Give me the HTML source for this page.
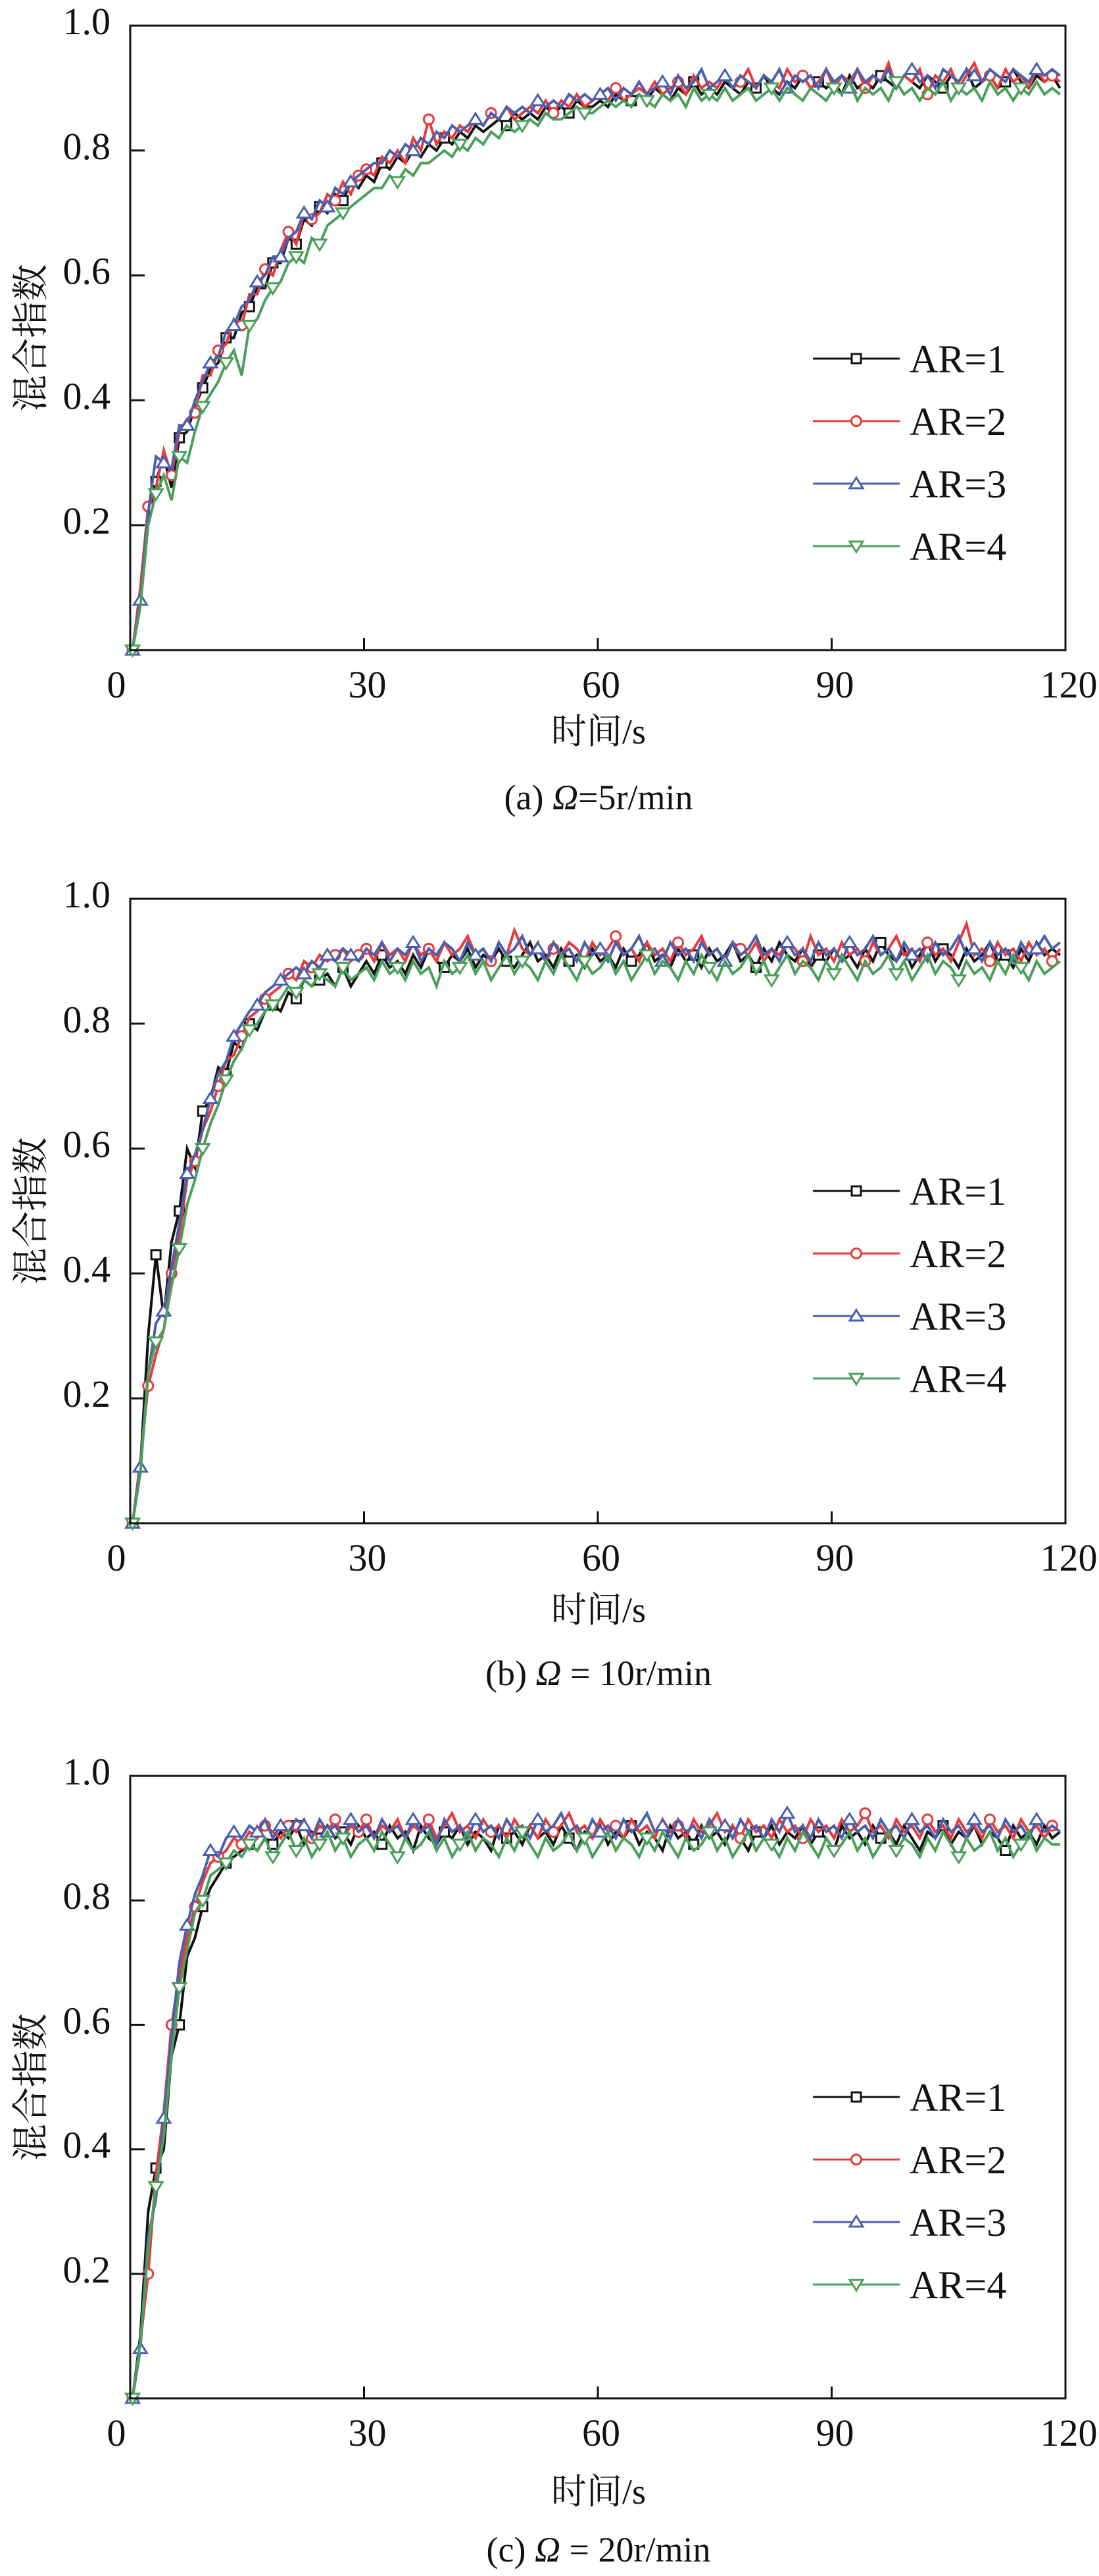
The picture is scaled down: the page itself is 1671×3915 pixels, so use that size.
<!DOCTYPE html>
<html><head><meta charset="utf-8">
<style>
html,body{margin:0;padding:0;background:#fff;}
svg{display:block;}
text{font-family:"Liberation Serif","Noto Serif CJK SC","Noto Sans CJK SC",serif;fill:#111;}
</style></head>
<body>
<svg id="fig" width="1671" height="3915" viewBox="0 0 1671 3915" xmlns="http://www.w3.org/2000/svg"></svg>
<script>
const seriesNames = ["AR=1","AR=2","AR=3","AR=4"];
const yTicks = [0.2,0.4,0.6,0.8,1.0];
const yTickLabels = ["0.2","0.4","0.6","0.8","1.0"];
const xTicks = [0,30,60,90,120];
const xTickLabels = ["0","30","60","90","120"];

const a1=[0,0.09,0.21,0.27,0.31,0.26,0.34,0.35,0.39,0.42,0.45,0.46,0.50,0.50,0.54,0.55,0.58,0.58,0.62,0.62,0.66,0.65,0.69,0.68,0.71,0.70,0.73,0.72,0.75,0.74,
0.76,0.75,0.78,0.77,0.79,0.78,0.80,0.79,0.81,0.80,0.82,0.81,0.83,0.82,0.84,0.83,0.84,0.85,0.84,0.86,0.85,0.86,0.85,0.87,0.86,0.87,0.86,0.88,0.87,0.87,
0.88,0.87,0.89,0.88,0.88,0.89,0.88,0.90,0.89,0.88,0.90,0.89,0.91,0.89,0.90,0.89,0.91,0.90,0.89,0.91,0.90,0.92,0.90,0.89,0.91,0.90,0.92,0.90,0.91,0.90,
0.91,0.89,0.92,0.90,0.91,0.90,0.92,0.91,0.90,0.92,0.91,0.90,0.92,0.91,0.90,0.92,0.91,0.93,0.90,0.91,0.92,0.90,0.91,0.93,0.91,0.90,0.92,0.91,0.92,0.90];
const a2=[0,0.10,0.23,0.26,0.32,0.28,0.35,0.37,0.38,0.44,0.44,0.48,0.49,0.53,0.52,0.57,0.57,0.61,0.60,0.64,0.67,0.65,0.70,0.69,0.70,0.73,0.72,0.75,0.73,0.76,
0.77,0.76,0.79,0.78,0.80,0.78,0.82,0.80,0.85,0.81,0.83,0.82,0.84,0.83,0.85,0.84,0.86,0.85,0.87,0.85,0.86,0.87,0.86,0.88,0.86,0.88,0.87,0.89,0.87,0.88,
0.89,0.88,0.90,0.88,0.89,0.90,0.89,0.91,0.89,0.90,0.91,0.89,0.92,0.90,0.91,0.90,0.92,0.90,0.91,0.93,0.90,0.92,0.91,0.90,0.93,0.91,0.92,0.90,0.91,0.93,
0.90,0.92,0.91,0.93,0.90,0.92,0.91,0.94,0.90,0.92,0.91,0.93,0.89,0.92,0.91,0.93,0.90,0.92,0.94,0.91,0.92,0.90,0.93,0.91,0.92,0.90,0.93,0.91,0.92,0.91];
const a3=[0,0.08,0.22,0.31,0.30,0.29,0.36,0.36,0.40,0.43,0.46,0.47,0.51,0.52,0.55,0.56,0.59,0.60,0.63,0.63,0.66,0.67,0.70,0.69,0.72,0.71,0.74,0.73,0.75,0.76,
0.77,0.78,0.78,0.80,0.79,0.81,0.80,0.82,0.81,0.83,0.82,0.84,0.83,0.84,0.85,0.84,0.86,0.85,0.87,0.86,0.87,0.86,0.88,0.87,0.88,0.87,0.89,0.88,0.89,0.88,
0.89,0.90,0.88,0.90,0.89,0.91,0.89,0.90,0.91,0.89,0.92,0.90,0.91,0.93,0.90,0.91,0.92,0.90,0.92,0.91,0.90,0.92,0.91,0.93,0.90,0.92,0.91,0.92,0.90,0.93,
0.91,0.92,0.90,0.93,0.91,0.92,0.91,0.93,0.90,0.92,0.93,0.91,0.92,0.90,0.93,0.92,0.91,0.93,0.92,0.91,0.93,0.92,0.91,0.93,0.92,0.91,0.93,0.92,0.93,0.92];
const a4=[0,0.07,0.20,0.25,0.28,0.24,0.31,0.30,0.35,0.39,0.41,0.43,0.46,0.48,0.44,0.52,0.53,0.56,0.58,0.59,0.62,0.63,0.62,0.66,0.65,0.68,0.69,0.70,0.71,0.72,
0.73,0.74,0.74,0.76,0.75,0.77,0.76,0.78,0.78,0.79,0.80,0.79,0.81,0.80,0.82,0.81,0.83,0.82,0.84,0.83,0.84,0.85,0.84,0.86,0.85,0.85,0.86,0.87,0.86,0.86,
0.87,0.88,0.87,0.88,0.87,0.89,0.88,0.87,0.89,0.88,0.89,0.87,0.90,0.88,0.89,0.88,0.90,0.88,0.89,0.90,0.88,0.89,0.90,0.88,0.90,0.89,0.88,0.90,0.89,0.88,
0.90,0.89,0.91,0.88,0.90,0.89,0.90,0.88,0.91,0.89,0.90,0.88,0.90,0.89,0.91,0.88,0.90,0.89,0.90,0.88,0.91,0.89,0.90,0.88,0.90,0.89,0.91,0.89,0.90,0.89];

const b1=[0,0.09,0.30,0.43,0.33,0.45,0.50,0.60,0.57,0.66,0.68,0.73,0.72,0.77,0.76,0.80,0.79,0.82,0.83,0.82,0.85,0.84,0.87,0.86,0.87,0.88,0.86,0.89,0.86,0.88,
0.90,0.88,0.91,0.89,0.90,0.88,0.91,0.89,0.92,0.90,0.89,0.91,0.90,0.92,0.89,0.91,0.90,0.92,0.90,0.89,0.91,0.93,0.90,0.91,0.89,0.92,0.90,0.91,0.89,0.92,
0.90,0.91,0.89,0.92,0.90,0.91,0.93,0.90,0.91,0.89,0.92,0.90,0.91,0.89,0.92,0.90,0.91,0.93,0.90,0.91,0.89,0.92,0.90,0.93,0.91,0.90,0.92,0.89,0.91,0.90,
0.92,0.90,0.91,0.89,0.92,0.90,0.93,0.91,0.90,0.92,0.89,0.91,0.93,0.90,0.92,0.91,0.89,0.92,0.90,0.91,0.93,0.90,0.91,0.89,0.92,0.90,0.93,0.91,0.92,0.91];
const b2=[0,0.10,0.22,0.27,0.31,0.40,0.46,0.55,0.58,0.63,0.66,0.70,0.74,0.75,0.78,0.81,0.82,0.84,0.85,0.86,0.88,0.87,0.90,0.89,0.91,0.90,0.91,0.92,0.90,0.91,
0.92,0.90,0.93,0.91,0.92,0.90,0.93,0.91,0.92,0.90,0.93,0.91,0.92,0.94,0.91,0.92,0.90,0.93,0.91,0.95,0.92,0.91,0.93,0.90,0.92,0.91,0.93,0.92,0.90,0.93,
0.91,0.92,0.94,0.91,0.92,0.90,0.93,0.91,0.92,0.90,0.93,0.91,0.92,0.94,0.91,0.92,0.90,0.93,0.92,0.91,0.93,0.90,0.92,0.91,0.93,0.92,0.90,0.94,0.91,0.92,
0.90,0.93,0.91,0.92,0.90,0.93,0.91,0.92,0.94,0.91,0.92,0.90,0.93,0.91,0.92,0.90,0.93,0.96,0.91,0.92,0.90,0.93,0.91,0.92,0.90,0.93,0.91,0.92,0.90,0.92];
const b3=[0,0.09,0.24,0.32,0.34,0.41,0.48,0.56,0.59,0.63,0.68,0.72,0.74,0.78,0.80,0.82,0.83,0.85,0.86,0.87,0.88,0.89,0.88,0.90,0.89,0.91,0.90,0.92,0.91,0.90,
0.92,0.91,0.93,0.90,0.92,0.91,0.93,0.90,0.92,0.91,0.93,0.92,0.90,0.93,0.91,0.92,0.90,0.93,0.91,0.92,0.94,0.91,0.92,0.90,0.93,0.91,0.92,0.90,0.93,0.91,
0.92,0.90,0.93,0.91,0.92,0.94,0.91,0.92,0.90,0.93,0.91,0.92,0.90,0.93,0.91,0.92,0.90,0.93,0.91,0.92,0.94,0.91,0.92,0.90,0.93,0.91,0.92,0.90,0.93,0.91,
0.92,0.90,0.93,0.91,0.92,0.94,0.91,0.92,0.90,0.93,0.91,0.92,0.90,0.93,0.91,0.92,0.94,0.91,0.92,0.90,0.93,0.91,0.92,0.90,0.93,0.91,0.92,0.94,0.92,0.93];
const b4=[0,0.08,0.24,0.29,0.31,0.38,0.44,0.51,0.55,0.60,0.64,0.67,0.71,0.74,0.76,0.79,0.80,0.82,0.83,0.84,0.86,0.85,0.87,0.86,0.88,0.87,0.86,0.89,0.87,0.88,
0.89,0.87,0.90,0.88,0.89,0.87,0.90,0.88,0.89,0.86,0.90,0.88,0.89,0.91,0.88,0.90,0.87,0.89,0.91,0.88,0.90,0.89,0.87,0.90,0.88,0.91,0.89,0.87,0.90,0.88,
0.89,0.91,0.88,0.90,0.87,0.89,0.91,0.88,0.90,0.89,0.87,0.90,0.88,0.91,0.89,0.87,0.90,0.88,0.89,0.91,0.88,0.90,0.87,0.89,0.91,0.88,0.90,0.89,0.87,0.90,
0.88,0.91,0.89,0.87,0.90,0.88,0.89,0.91,0.88,0.90,0.87,0.89,0.91,0.88,0.90,0.89,0.87,0.90,0.88,0.89,0.87,0.90,0.88,0.91,0.89,0.87,0.90,0.88,0.89,0.90];

const c1=[0,0.10,0.30,0.37,0.40,0.55,0.60,0.71,0.74,0.79,0.82,0.84,0.86,0.87,0.88,0.89,0.88,0.90,0.89,0.91,0.90,0.92,0.89,0.91,0.90,0.92,0.90,0.91,0.89,0.92,
0.90,0.91,0.89,0.92,0.90,0.91,0.88,0.92,0.90,0.89,0.91,0.90,0.92,0.89,0.91,0.90,0.88,0.92,0.90,0.91,0.89,0.92,0.90,0.91,0.89,0.92,0.90,0.88,0.91,0.90,
0.92,0.89,0.91,0.90,0.92,0.89,0.91,0.90,0.88,0.92,0.90,0.91,0.89,0.92,0.90,0.91,0.89,0.92,0.90,0.88,0.91,0.90,0.92,0.89,0.91,0.90,0.92,0.89,0.91,0.90,
0.88,0.92,0.90,0.91,0.89,0.92,0.90,0.91,0.89,0.92,0.90,0.88,0.91,0.90,0.92,0.89,0.91,0.90,0.92,0.89,0.91,0.90,0.88,0.92,0.90,0.91,0.89,0.92,0.90,0.91];
const c2=[0,0.09,0.20,0.36,0.46,0.60,0.68,0.74,0.79,0.83,0.86,0.87,0.88,0.90,0.89,0.91,0.90,0.92,0.91,0.90,0.92,0.91,0.93,0.90,0.92,0.91,0.93,0.90,0.92,0.91,
0.93,0.90,0.92,0.91,0.93,0.90,0.92,0.91,0.93,0.90,0.92,0.94,0.91,0.92,0.90,0.93,0.91,0.92,0.90,0.93,0.91,0.92,0.90,0.93,0.91,0.92,0.94,0.91,0.92,0.90,
0.93,0.91,0.92,0.90,0.93,0.91,0.92,0.90,0.93,0.91,0.92,0.90,0.93,0.91,0.92,0.94,0.91,0.92,0.90,0.93,0.91,0.92,0.90,0.93,0.91,0.92,0.90,0.93,0.91,0.92,
0.90,0.93,0.91,0.92,0.94,0.91,0.92,0.90,0.93,0.91,0.92,0.90,0.93,0.91,0.92,0.90,0.93,0.91,0.92,0.90,0.93,0.91,0.92,0.90,0.93,0.91,0.92,0.90,0.92,0.91];
const c3=[0,0.08,0.26,0.32,0.45,0.58,0.70,0.76,0.81,0.84,0.88,0.87,0.90,0.91,0.90,0.92,0.91,0.93,0.90,0.92,0.91,0.93,0.92,0.90,0.93,0.91,0.92,0.90,0.93,0.91,
0.92,0.90,0.93,0.91,0.92,0.90,0.93,0.91,0.92,0.89,0.93,0.91,0.92,0.90,0.93,0.91,0.92,0.90,0.93,0.91,0.92,0.90,0.93,0.91,0.92,0.94,0.91,0.92,0.90,0.93,
0.91,0.92,0.90,0.93,0.91,0.92,0.94,0.91,0.92,0.90,0.93,0.91,0.92,0.90,0.93,0.91,0.92,0.90,0.93,0.91,0.92,0.90,0.93,0.91,0.94,0.91,0.92,0.90,0.93,0.91,
0.92,0.90,0.93,0.91,0.92,0.90,0.93,0.91,0.92,0.90,0.93,0.91,0.92,0.90,0.93,0.91,0.92,0.90,0.93,0.91,0.92,0.90,0.93,0.91,0.92,0.90,0.93,0.91,0.92,0.91];
const c4=[0,0.09,0.24,0.34,0.42,0.55,0.66,0.72,0.78,0.80,0.84,0.85,0.86,0.88,0.87,0.89,0.88,0.90,0.87,0.89,0.91,0.88,0.90,0.87,0.89,0.91,0.88,0.90,0.87,0.89,
0.90,0.88,0.91,0.89,0.87,0.90,0.88,0.89,0.91,0.88,0.90,0.87,0.89,0.91,0.88,0.90,0.89,0.87,0.90,0.88,0.91,0.89,0.87,0.90,0.88,0.89,0.91,0.88,0.90,0.87,
0.89,0.91,0.88,0.90,0.89,0.87,0.90,0.88,0.91,0.89,0.87,0.90,0.88,0.89,0.91,0.88,0.90,0.87,0.89,0.91,0.88,0.90,0.89,0.87,0.90,0.88,0.91,0.89,0.87,0.90,
0.88,0.89,0.91,0.88,0.90,0.87,0.89,0.91,0.88,0.90,0.89,0.87,0.90,0.88,0.91,0.89,0.87,0.90,0.88,0.89,0.91,0.88,0.90,0.87,0.89,0.91,0.88,0.90,0.89,0.89];

const panelCaptions = ["(a) ","(b) ","(c) "];
const panelCaptionTails = ["=5r/min"," = 10r/min"," = 20r/min"];

const NS="http://www.w3.org/2000/svg";
const svg=document.getElementById('fig');
const colors=["#111111","#e8393b","#4a5fae","#4aa05a"];
const markerKinds=["square","circle","up","down"];

function mk(tag,attrs,parent){const e=document.createElementNS(NS,tag);for(const k in attrs)e.setAttribute(k,attrs[k]);(parent||svg).appendChild(e);return e;}

function drawMarker(g,kind,x,y,color){
  let m;
  if(kind==="square") m=mk('rect',{x:x-7,y:y-7,width:14,height:14,fill:'#fff',stroke:color,'stroke-width':3},g);
  else if(kind==="circle") m=mk('circle',{cx:x,cy:y,r:7.5,fill:'#fff',stroke:color,'stroke-width':3},g);
  else if(kind==="up") m=mk('polygon',{points:`${x},${y-9} ${x+10},${y+7} ${x-10},${y+7}`,fill:'#fff',stroke:color,'stroke-width':3},g);
  else m=mk('polygon',{points:`${x},${y+9} ${x+10},${y-7} ${x-10},${y-7}`,fill:'#fff',stroke:color,'stroke-width':3},g);
  
  
}

function drawPanel(p,top,bottom,series,titleOff,capOff,legendTop){
  const L=198,R=1620;
  const xs=t=>L+(t/120)*(R-L);
  const ys=v=>bottom-(v/1.0)*(bottom-top);
  const g=mk('g',{});
  
  
  series.forEach((vals,si)=>{
    const sg=mk('g',{},g);
    
    
    const pts=vals.map((v,i)=>xs(i+0.3).toFixed(1)+','+ys(v).toFixed(1)).join(' ');
    const pl=mk('polyline',{points:pts,fill:'none',stroke:colors[si],'stroke-width':4,'stroke-linejoin':'miter'},sg);
    
    
    vals.forEach((v,i)=>{
      const early = i<30 && (i+si)%3===0;
      const late = i>=30 && (i+si*2)%8===0;
      if(i===0||early||late) drawMarker(sg,markerKinds[si],xs(i+0.3),ys(v),colors[si]);
    });
  });
  const fr=mk('rect',{x:L,y:top,width:R-L,height:bottom-top,fill:'none',stroke:'#111','stroke-width':3},g);
  
  
  yTicks.forEach((v,i)=>{
    const y=ys(v);
    if(v<1){const t=mk('line',{x1:L,x2:L+22,y1:y,y2:y,stroke:'#111','stroke-width':3},g);
    
    }
    const tx=mk('text',{x:168,y:y+13,'text-anchor':'end','font-size':58},g);
    tx.textContent=yTickLabels[i];
    
    
  });
  xTicks.forEach((v,i)=>{
    const x=xs(v);
    if(v>0&&v<120){const t=mk('line',{x1:x,x2:x,y1:bottom,y2:bottom-18,stroke:'#111','stroke-width':3},g);
    
    }
    const tx=mk('text',{x:(v===0?177:x+5),y:bottom+72,'text-anchor':'middle','font-size':58},g);
    tx.textContent=xTickLabels[i];
    
    
  });
  const xt=mk('text',{x:910,y:bottom+titleOff,'text-anchor':'middle','font-size':54},g);
  xt.textContent='时间/s';
  
  
  const cy=(top+bottom)/2;
  const yt=mk('text',{x:66,y:cy,'text-anchor':'middle','font-size':56,transform:`rotate(-90 66 ${cy})`,'font-family':'"Noto Sans CJK SC",sans-serif'},g);
  yt.textContent='混合指数';
  
  
  const cap=mk('text',{x:910,y:bottom+capOff,'text-anchor':'middle','font-size':54},g);
  
  
  const s1=mk('tspan',{},cap);s1.textContent=panelCaptions[p];
  const s2=mk('tspan',{'font-style':'italic'},cap);s2.textContent='Ω';
  const s3=mk('tspan',{},cap);s3.textContent=panelCaptionTails[p];
  const lg=mk('g',{},g);
  
  
  seriesNames.forEach((n,si)=>{
    const y=legendTop+si*95;
    const e=mk('g',{},lg);
    
    
    mk('line',{x1:1236,x2:1368,y1:y,y2:y,stroke:colors[si],'stroke-width':3},e);
    drawMarker(e,markerKinds[si],1302,y,colors[si]);
    const t=mk('text',{x:1383,y:y+21,'font-size':60},e);
    t.textContent=n;
  });
}

drawPanel(0,39,988,[a1,a2,a3,a4],142,242,545);
drawPanel(1,1366,2315,[b1,b2,b3,b4],150,246,1810);
drawPanel(2,2699,3645,[c1,c2,c3,c4],160,248,3187);
</script>
</body></html>
